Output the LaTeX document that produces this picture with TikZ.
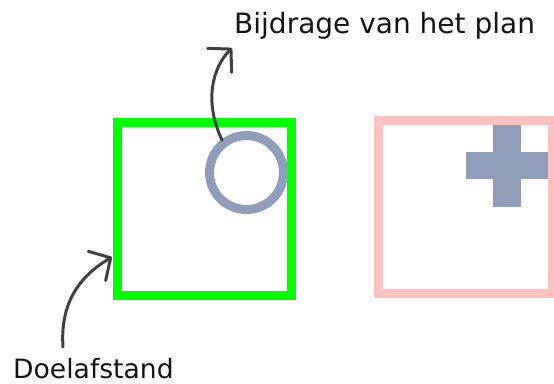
\documentclass[tikz,border=0pt]{standalone}
\usepackage{fontspec}
\setmainfont{DejaVu Sans}
\usetikzlibrary{arrows.meta}
\definecolor{frameGreen}{RGB}{0,255,0}
\definecolor{framePink}{RGB}{255,192,192}
\definecolor{markBlue}{RGB}{143,156,186}
\definecolor{pointerGrey}{RGB}{64,64,64}
\definecolor{labelInk}{RGB}{20,20,20}
\tikzset{
  frame/.style={line width=9pt, line join=miter},
  pointer/.style={draw=pointerGrey, line width=3pt, line cap=round,
    -{Straight Barb[length=16pt, width=34pt, line width=3pt, round]}},
  label/.style={inner sep=0pt, anchor=base west, text=labelInk}
}
\begin{document}
\begin{tikzpicture}[x=1pt, y=-1pt]
  \useasboundingbox (0,0) rectangle (554,383);
  \clip (0,0) rectangle (554,383);

  % target frame with the plan's share (circle)
  \draw[frame, draw=frameGreen] (117.5,122) rectangle (291.5,295.5);
  \draw[line width=9pt, draw=markBlue] (246.5,172.5) circle[radius=37pt];

  % second frame with the plus mark
  \draw[frame, draw=framePink] (378.5,120.5) rectangle (552.5,293.5);
  \fill[markBlue] (493,125) rectangle (521,207);
  \fill[markBlue] (466,152) rectangle (548,179);

  % labels
  \node[label, font=\fontsize{28}{32}\selectfont] (plan) at (234,33) {Bijdrage van het plan};
  \node[label, font=\fontsize{26.6}{30}\selectfont] (doel) at (13,378) {Doelafstand};

  % pointers
  \coordinate (circEdge) at (222,140);
  \coordinate (planTip) at (232,48);
  \coordinate (doelFoot) at (63,347);
  \coordinate (frameTip) at (112,257);
  \draw[pointer] (circEdge) .. controls (204,102) and (212,68) .. (planTip);
  \draw[pointer] (doelFoot) .. controls (60,302) and (80,276) .. (frameTip);
\end{tikzpicture}
\end{document}
